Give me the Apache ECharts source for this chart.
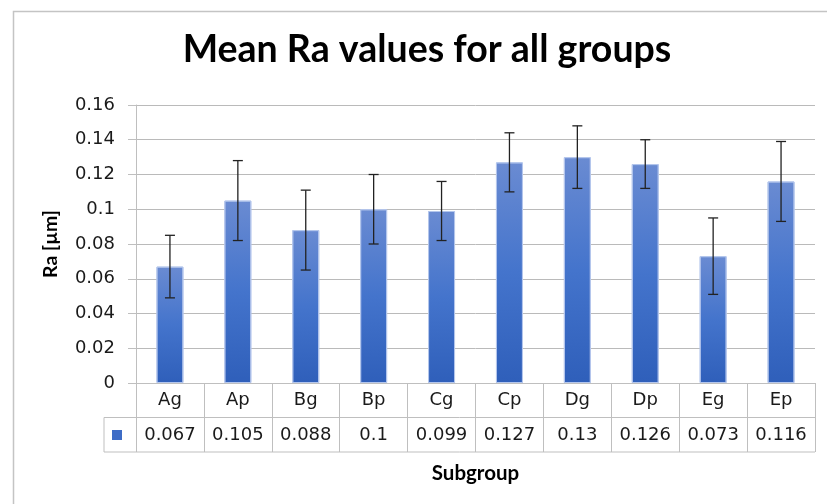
<!DOCTYPE html>
<html><head><meta charset="utf-8">
<script src="https://cdn.jsdelivr.net/npm/echarts@6/dist/echarts.min.js"></script>
<style>html,body{margin:0;padding:0;background:#fff}#c{width:827px;height:504px}</style>
</head><body><div id="c"></div>
<script>
const categories = ['Ag','Ap','Bg','Bp','Cg','Cp','Dg','Dp','Eg','Ep'];
const meanRa = [0.067,0.105,0.088,0.1,0.099,0.127,0.13,0.126,0.073,0.116];
const errLow = [0.049,0.082,0.065,0.080,0.082,0.110,0.112,0.112,0.051,0.093];
const errHigh = [0.085,0.128,0.111,0.120,0.116,0.144,0.148,0.140,0.095,0.139];
const valueLabels = ['0.067','0.105','0.088','0.1','0.099','0.127','0.13','0.126','0.073','0.116'];

const FONT = 'DejaVu Sans';
const chart = echarts.init(document.getElementById('c'));
const gridL = 136, gridR = 12, gridT = 105, gridB = 121;

const option = {
  animation: false,
  title: {
    text: 'Mean Ra values for all groups',
    left: 422, top: 26, textAlign: 'center',
    textStyle: {fontFamily: 'Lato', fontWeight: 'bold', fontSize: 37.5, color: '#000'}
  },
  grid: {left: gridL, right: gridR, top: gridT, bottom: gridB},
  xAxis: {
    type: 'category', data: categories,
    name: 'Subgroup', nameLocation: 'middle', nameGap: 80,
    nameTextStyle: {fontFamily: 'Lato', fontWeight: 'bold', fontSize: 20.5, color: '#000'},
    axisLine: {lineStyle: {color: '#bfbfbf', width: 1}},
    axisTick: {show: true, length: 69, lineStyle: {color: '#bfbfbf'}},
    axisLabel: {
      margin: 0, interval: 0,
      formatter: (v, i) => '{c|' + v + '}\n{v|' + valueLabels[i] + '}',
      rich: {
        c: {fontFamily: FONT, fontSize: 18, color: '#1a1a1a', lineHeight: 35, height: 35},
        v: {fontFamily: FONT, fontSize: 18, color: '#1a1a1a', lineHeight: 35, height: 35}
      }
    }
  },
  yAxis: {
    type: 'value', min: 0, max: 0.16, interval: 0.02,
    name: 'Ra [µm]', nameLocation: 'middle', nameGap: 75, nameRotate: 90,
    nameTextStyle: {fontFamily: 'Lato', fontWeight: 'bold', fontSize: 19.5, color: '#000'},
    axisLine: {show: true, lineStyle: {color: '#bfbfbf', width: 1}},
    axisTick: {show: true, length: 8, lineStyle: {color: '#bfbfbf'}},
    axisLabel: {margin: 21, fontFamily: FONT, fontSize: 18, color: '#1a1a1a'},
    splitLine: {lineStyle: {color: '#bababa', width: 1}}
  },
  series: [
    {
      type: 'bar', data: meanRa, barWidth: 27,
      itemStyle: {
        color: new echarts.graphic.LinearGradient(0, 0, 0, 1, [
          {offset: 0, color: '#6a8bd2'}, {offset: 0.5, color: '#4474cc'}, {offset: 1, color: '#2f5fba'}
        ]),
        borderColor: '#b4c6ec', borderWidth: 1
      }
    },
    {
      type: 'custom',
      data: categories.map((c, i) => [i, errLow[i], errHigh[i]]),
      renderItem: function (params, api) {
        const x = api.value(0);
        const lo = api.coord([x, api.value(1)]);
        const hi = api.coord([x, api.value(2)]);
        const hw = 5;
        const st = {stroke: '#222', lineWidth: 1.3};
        return {type: 'group', children: [
          {type: 'line', shape: {x1: lo[0], y1: lo[1], x2: hi[0], y2: hi[1]}, style: st},
          {type: 'line', shape: {x1: hi[0]-hw, y1: hi[1], x2: hi[0]+hw, y2: hi[1]}, style: st},
          {type: 'line', shape: {x1: lo[0]-hw, y1: lo[1], x2: lo[0]+hw, y2: lo[1]}, style: st}
        ]};
      },
      z: 5
    }
  ]
};
chart.setOption(option);

// data table lines derived from the axis geometry
const x0 = chart.convertToPixel({xAxisIndex: 0}, 0) - (chart.convertToPixel({xAxisIndex: 0}, 1) - chart.convertToPixel({xAxisIndex: 0}, 0)) / 2;
const bandW = chart.convertToPixel({xAxisIndex: 0}, 1) - chart.convertToPixel({xAxisIndex: 0}, 0);
const xEnd = x0 + bandW * categories.length;
const yBase = chart.convertToPixel({yAxisIndex: 0}, 0);
const rowH = 34.5;
const keyL = 104;
const ls = {stroke: '#bfbfbf', lineWidth: 1};
chart.setOption({
  graphic: [
    {type: 'rect', shape: {x: 13.5, y: 11.5, width: 900, height: 600}, style: {fill: null, stroke: '#c4c4c4', lineWidth: 1.5}, silent: true},
    {type: 'line', shape: {x1: keyL, y1: yBase + rowH, x2: xEnd, y2: yBase + rowH}, style: ls},
    {type: 'line', shape: {x1: keyL, y1: yBase + 2*rowH, x2: xEnd, y2: yBase + 2*rowH}, style: ls},
    {type: 'line', shape: {x1: keyL, y1: yBase + rowH, x2: keyL, y2: yBase + 2*rowH}, style: ls},
    {type: 'rect', shape: {x: 112, y: yBase + rowH + 12.5, width: 10, height: 10}, style: {fill: '#3e6cc6'}}
  ]
});
</script></body></html>
